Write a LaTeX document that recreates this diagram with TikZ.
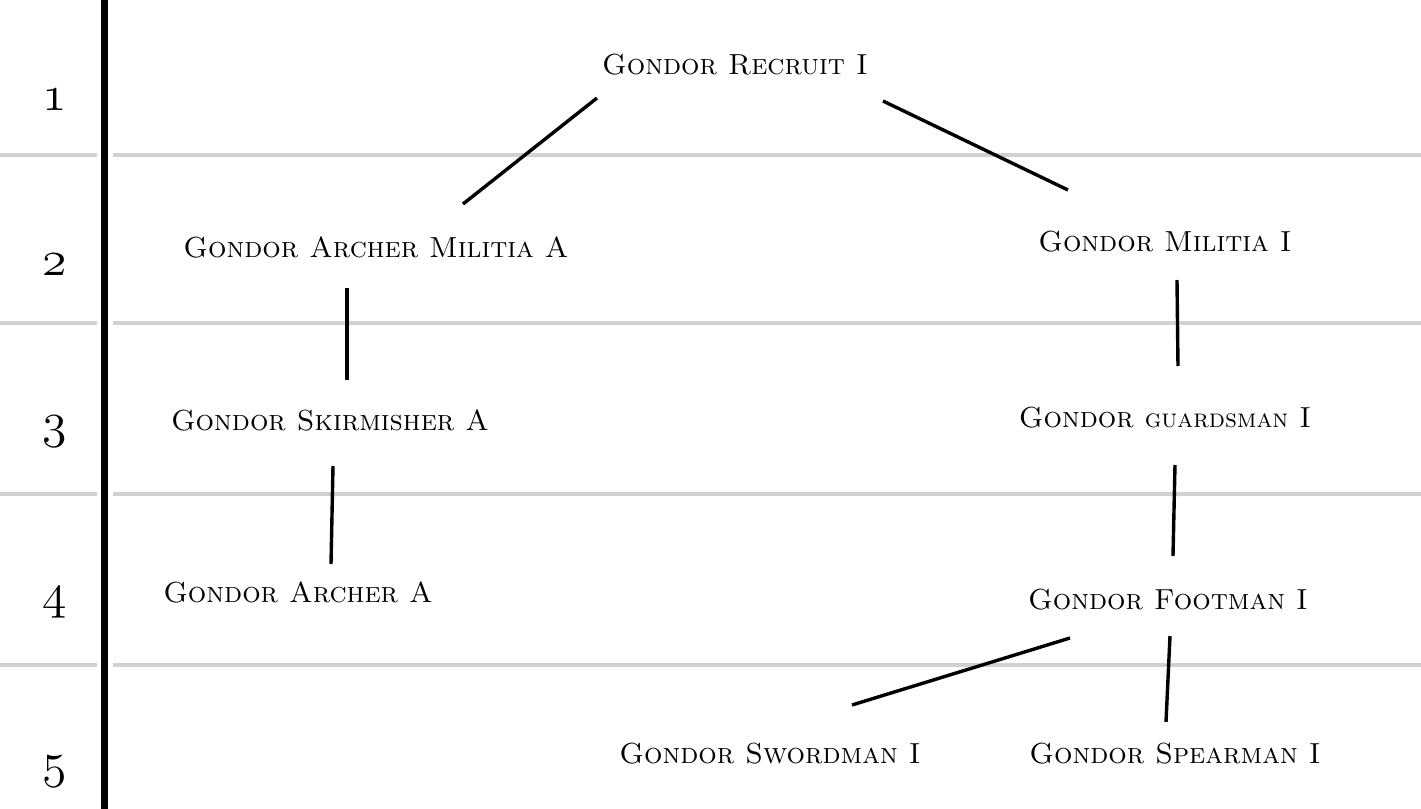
\documentclass[tikz,border=0pt]{standalone}
\usetikzlibrary{calc}
\newcommand{\osnum}[1]{{\usefont{OML}{cmm}{m}{it}#1}}
\begin{document}
\begin{tikzpicture}[x=0.5pt,y=-0.5pt,
  unit/.style={font=\fontsize{14.5}{16}\selectfont\scshape, inner sep=0pt, anchor=center},
  tiernum/.style={font=\fontsize{34}{36}\selectfont, inner sep=0pt, anchor=center},
  link/.style={line width=1.7pt, black},
  sep/.style={line width=2pt, black!18},
  axis/.style={line width=3.5pt, black}]
\useasboundingbox (0,0) rectangle (1421,809);
% separators
\foreach \yy in {155,323,494,665}{
  \draw[sep] (0,\yy) -- (97,\yy);
  \draw[sep] (113,\yy) -- (1421,\yy);
}
\draw[axis] (104,0) -- (104,809);
% tier numbers
\node[tiernum] (n1) at (55,100) {\osnum{1}};
\node[tiernum] (n2) at (55,265) {\osnum{2}};
\node[tiernum] (n3) at (55,432) {\osnum{3}};
\node[tiernum] (n4) at (55,603) {\osnum{4}};
\node[tiernum] (n5) at (55,772) {\osnum{5}};
% units
\node[unit] (recruit) at (735,65) {Gondor Recruit I};
\node[unit] (archmil) at (376,247) {Gondor Archer Militia A};
\node[unit] (militia) at (1165,242) {Gondor Militia I};
\node[unit] (skirm) at (330,420) {Gondor Skirmisher A};
\node[unit] (guard) at (1165,418) {Gondor {\fontsize{13}{14}\selectfont guardsman} I};
\node[unit] (archer) at (298,592) {Gondor Archer A};
\node[unit] (foot) at (1168,600) {Gondor Footman I};
\node[unit] (sword) at (770,754) {Gondor Swordman I};
\node[unit] (spear) at (1175,754) {Gondor Spearman I};
% links
\draw[link] ([shift={(-138,33)}]recruit.center) -- ([shift={(87,-43)}]archmil.center);
\draw[link] ([shift={(148,36)}]recruit.center) -- ([shift={(-97,-52)}]militia.center);
\draw[link] ([shift={(-29,41)}]archmil.center) -- ([shift={(17,-40)}]skirm.center);
\draw[link] ([shift={(12,38)}]militia.center) -- ([shift={(13,-52)}]guard.center);
\draw[link] ([shift={(3,46)}]skirm.center) -- ([shift={(33,-28)}]archer.center);
\draw[link] ([shift={(10,47)}]guard.center) -- ([shift={(5,-44)}]foot.center);
\draw[link] ([shift={(-98,38)}]foot.center) -- ([shift={(82,-49)}]sword.center);
\draw[link] ([shift={(2,36)}]foot.center) -- ([shift={(-9,-32)}]spear.center);
\end{tikzpicture}
\end{document}
